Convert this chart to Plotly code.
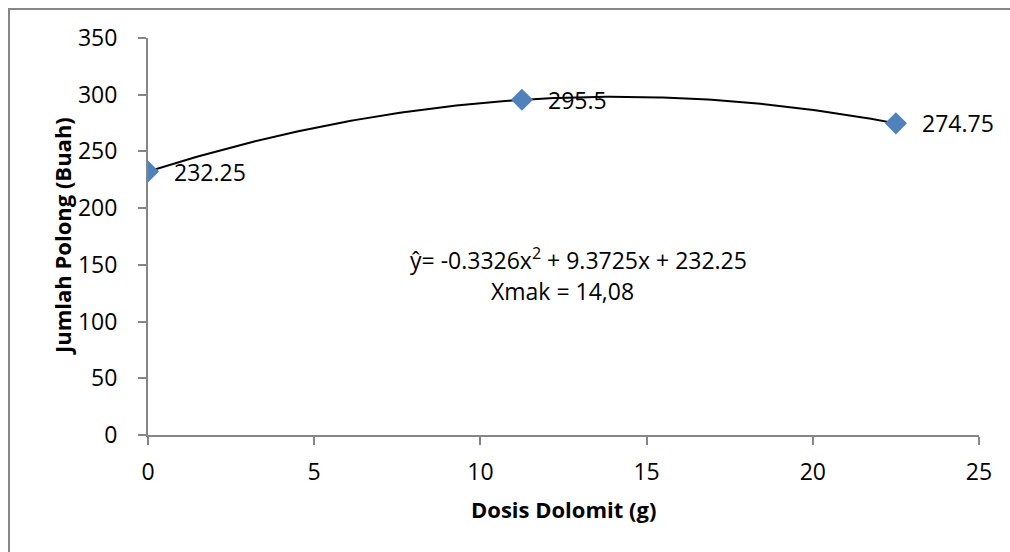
import numpy as np
import plotly.graph_objects as go

# Data
dosis = [0, 11.25, 22.5]
polong = [232.25, 295.5, 274.75]
point_labels = ["232.25", "295.5", "274.75"]
x_ticks = [0, 5, 10, 15, 20, 25]
y_ticks = [0, 50, 100, 150, 200, 250, 300, 350]
equation_text = "ŷ= -0.3326x<sup>2</sup> + 9.3725x + 232.25"
xmak_text = "Xmak = 14,08"
x_title = "Dosis Dolomit (g)"
y_title = "Jumlah Polong (Buah)"

# Polynomial (order 2) trendline fitted to the data
coef = np.polyfit(dosis, polong, 2)
xs = np.linspace(min(dosis), max(dosis), 200)
ys = np.polyval(coef, xs)

FONT = "Open Sans"
AXIS_COLOR = "#868686"

W, H = 1010, 552
L, R, T, B = 148, 31, 38, 117
pw, ph = W - L - R, H - T - B

def px_to_paper_x(px):
    return (px - L) / pw

def px_to_paper_y(py):
    return (H - B - py) / ph

fig = go.Figure()
fig.add_trace(go.Scatter(x=xs, y=ys, mode="lines",
                         line=dict(color="black", width=2),
                         hoverinfo="skip", showlegend=False))
fig.add_trace(go.Scatter(x=dosis, y=polong, mode="markers",
                         marker=dict(symbol="diamond", size=17, color="#4F81BD",
                                     line=dict(width=0)),
                         showlegend=False))

annotations = []
for xv, yv, lab in zip(dosis, polong, point_labels):
    annotations.append(dict(x=xv, y=yv, text=lab, showarrow=False,
                            xanchor="left", yanchor="middle", xshift=24, yshift=0,
                            font=dict(family=FONT, size=23, color="black")))

annotations.append(dict(x=px_to_paper_x(408), y=px_to_paper_y(259), xref="paper", yref="paper",
                        text=equation_text, showarrow=False,
                        xanchor="left", yanchor="middle",
                        font=dict(family=FONT, size=23, color="black")))
annotations.append(dict(x=px_to_paper_x(562), y=px_to_paper_y(291), xref="paper", yref="paper",
                        text=xmak_text, showarrow=False,
                        xanchor="center", yanchor="middle",
                        font=dict(family=FONT, size=23, color="black")))
annotations.append(dict(x=px_to_paper_x(563), y=px_to_paper_y(509), xref="paper", yref="paper",
                        text=x_title, showarrow=False,
                        xanchor="center", yanchor="middle",
                        font=dict(family=FONT, size=22, color="black", weight="bold")))
annotations.append(dict(x=px_to_paper_x(62), y=px_to_paper_y(236), xref="paper", yref="paper",
                        text=y_title, showarrow=False, textangle=-90,
                        xanchor="center", yanchor="middle",
                        font=dict(family=FONT, size=22, color="black", weight="bold")))

fig.update_layout(
    width=W, height=H,
    margin=dict(l=L, r=R, t=T, b=B, autoexpand=False),
    paper_bgcolor="white", plot_bgcolor="white",
    annotations=annotations,
    shapes=[dict(type="rect", xref="paper", yref="paper",
                 x0=px_to_paper_x(9), x1=px_to_paper_x(1030),
                 y0=px_to_paper_y(600), y1=px_to_paper_y(9),
                 line=dict(color=AXIS_COLOR, width=2), fillcolor="rgba(0,0,0,0)",
                 layer="below")],
    xaxis=dict(range=[0, 25], tickvals=x_ticks, showgrid=False, zeroline=False,
               showline=True, linecolor=AXIS_COLOR, linewidth=2,
               ticks="outside", ticklen=8, tickwidth=2, tickcolor=AXIS_COLOR,
               ticklabelstandoff=7,
               tickfont=dict(family=FONT, size=23, color="black")),
    yaxis=dict(range=[0, 350], tickvals=y_ticks, showgrid=False, zeroline=False,
               showline=True, linecolor=AXIS_COLOR, linewidth=2,
               ticks="outside", ticklen=8, tickwidth=2, tickcolor=AXIS_COLOR,
               ticklabelstandoff=16,
               tickfont=dict(family=FONT, size=23, color="black")),
)

fig.write_html("out.html", config={"displayModeBar": False},
               post_script="document.body.style.margin='0';document.body.style.overflow='hidden';")
